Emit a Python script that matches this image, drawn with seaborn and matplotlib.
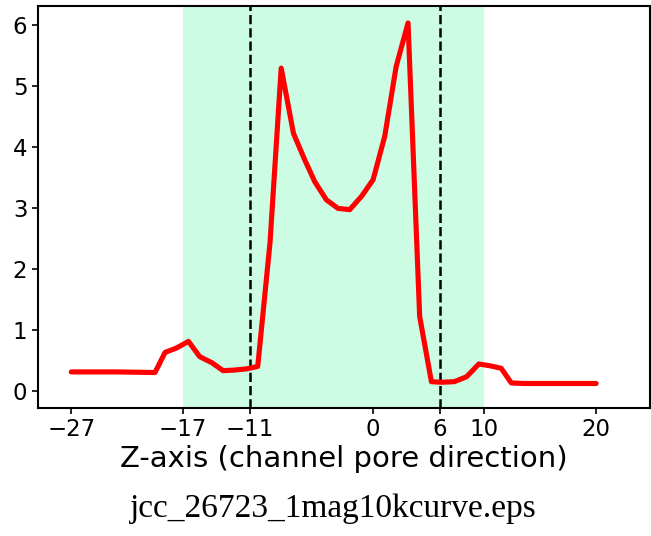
import matplotlib
matplotlib.use("Agg")
import matplotlib.pyplot as plt
import seaborn as sns
import pandas as pd

# data
z_pos = [-27, -23, -19.5, -18.6, -17.6, -16.5, -15.5, -14.4, -13.4, -12.4, -11.3, -10.3,
         -9.2, -8.2, -7.1, -6.1, -5.2, -4.15, -3.1, -2.06, -1.0, 0.03, 1.07, 2.1, 3.16,
         4.2, 5.25, 6.15, 7.3, 8.4, 9.5, 10.5, 11.5, 12.4, 13.5, 16.0, 20.0]
value = [0.31, 0.31, 0.30, 0.63, 0.70, 0.81, 0.56, 0.46, 0.33, 0.34, 0.36, 0.40,
         2.43, 5.29, 4.22, 3.79, 3.43, 3.13, 2.99, 2.97, 3.19, 3.46, 4.17, 5.32, 6.03,
         1.22, 0.15, 0.14, 0.15, 0.23, 0.44, 0.41, 0.37, 0.13, 0.12, 0.12, 0.12]
xticks = [-27, -17, -11, 0, 6, 10, 20]
yticks = [0, 1, 2, 3, 4, 5, 6]
region = (-17, 10)
dashed_at = [-11, 6]

sns.set_style("ticks")
plt.rcParams["font.family"] = ["DejaVu Sans"]
plt.rcParams["text.color"] = "black"
plt.rcParams["axes.labelcolor"] = "black"

df = pd.DataFrame({"z": z_pos, "v": value})

fig = plt.figure(figsize=(6.51, 5.36), dpi=100)
ax = fig.add_axes([0.058, 0.239, 0.94, 0.75])

ax.axvspan(region[0], region[1], color="#ccfce4", lw=0, zorder=0)
for d in dashed_at:
    ax.axvline(d, color="black", ls="--", lw=1.8, zorder=1)
sns.lineplot(data=df, x="z", y="v", color="#ff0000", lw=3.7, ax=ax, zorder=3)

ax.set_xlim(-30, 24.8)
ax.set_ylim(-0.28, 6.31)
ax.set_xticks(xticks)
ax.set_yticks(yticks)
ax.tick_params(labelsize=16.5, length=4, width=1.2, colors="black")
for s in ax.spines.values():
    s.set_linewidth(1.5)
    s.set_color("black")
ax.set_xlabel("Z-axis (channel pore direction)", fontsize=21, labelpad=3, color="black")
ax.set_ylabel("")

fig.text(0.512, 0.05, "jcc_26723_1mag10kcurve.eps", ha="center", va="center",
         fontsize=24, family=["Liberation Serif"], color="black")

fig.savefig("out.png", dpi=100)
